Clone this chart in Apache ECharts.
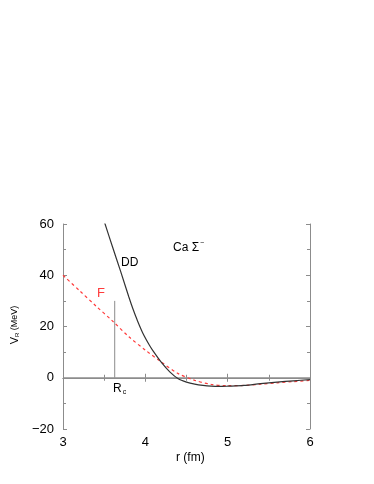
<!DOCTYPE html>
<html>
<head>
<meta charset="utf-8">
<script src="https://cdn.jsdelivr.net/npm/echarts@6/dist/echarts.min.js"></script>
<style>
  html, body { margin: 0; padding: 0; background: #fff; }
  #chart { width: 374px; height: 484px; }
</style>
</head>
<body>
<div id="chart"></div>
<script>
// r (fm), V (MeV)
var ddR   = [3.507, 3.60, 3.70, 3.80, 3.85, 3.90, 3.97, 4.05, 4.10, 4.20, 4.30, 4.40, 4.50, 4.60, 4.70, 4.80, 4.90, 5.00, 5.20, 5.40, 5.60, 5.80, 6.00];
var ddV   = [60.4, 51.2, 41.5, 31.5, 26.8, 22.6, 17.4, 12.7, 10.2, 5.8, 2.2, -0.4, -1.7, -2.5, -3.0, -3.3, -3.4, -3.3, -3.0, -2.3, -1.7, -1.2, -0.7];
var fR    = [3.0, 3.2, 3.4, 3.6, 3.8, 4.0, 4.2, 4.4, 4.6, 4.8, 5.0, 5.2, 5.4, 5.6, 5.8, 6.0];
var fV    = [40, 34, 28, 22.2, 16.0, 10.8, 6.0, 1.6, -1.0, -2.6, -3.1, -3.0, -2.5, -2.0, -1.5, -1.05];
var zeroLine = [[3, 0], [6, 0]];
var rcLine   = [[3.628, 0], [3.628, 30]];

function pairs(xs, ys) {
  return xs.map(function (x, i) { return [x, ys[i]]; });
}

var chart = echarts.init(document.getElementById('chart'), null, { renderer: 'canvas' });

var frame = { show: true, lineStyle: { color: '#8c8c8c', width: 1 } };
var tick = { show: true, inside: true, length: 4, lineStyle: { color: '#8c8c8c' } };
var minor = { show: true, splitNumber: 2, length: 3, lineStyle: { color: '#8c8c8c' } };
var font = 'Liberation Sans, Arial, sans-serif';

var option = {
  animation: false,
  backgroundColor: '#fff',
  grid: { left: 63, right: 64, top: 224, bottom: 55, containLabel: false },
  xAxis: [
    {
      type: 'value', min: 3, max: 6, interval: 1,
      axisLine: frame, axisTick: tick, minorTick: minor,
      splitLine: { show: false },
      axisLabel: { margin: 7, color: '#000', fontSize: 13, fontFamily: font }
    },
    {
      type: 'value', position: 'top', min: 3, max: 6, interval: 1,
      axisLine: frame, axisTick: tick, minorTick: minor,
      splitLine: { show: false }, axisLabel: { show: false }
    }
  ],
  yAxis: [
    {
      type: 'value', min: -20, max: 60, interval: 20,
      axisLine: frame, axisTick: tick, minorTick: minor,
      splitLine: { show: false },
      axisLabel: {
        margin: 9, color: '#000', fontSize: 13, fontFamily: font,
        formatter: function (v) { return String(v).replace('-', '\u2212'); }
      }
    },
    {
      type: 'value', position: 'right', min: -20, max: 60, interval: 20,
      axisLine: frame, axisTick: tick, minorTick: minor,
      splitLine: { show: false }, axisLabel: { show: false }
    }
  ],
  series: [
    {
      type: 'line', data: zeroLine, symbol: 'none', silent: true,
      lineStyle: { color: '#8c8c8c', width: 1 }
    },
    {
      type: 'line', data: rcLine, symbol: 'none', silent: true,
      lineStyle: { color: '#8c8c8c', width: 1 }
    },
    {
      name: 'F', type: 'line', data: pairs(fR, fV), symbol: 'none', smooth: 0.3,
      lineStyle: { color: '#ff3b3b', width: 1.2, type: [3, 3] }
    },
    {
      name: 'DD', type: 'line', data: pairs(ddR, ddV), symbol: 'none', smooth: 0.3, clip: true,
      lineStyle: { color: '#333', width: 1.2 }
    }
  ],
  graphic: [
    {
      type: 'text', left: 173, top: 240,
      style: {
        text: '{a|Ca \u03A3}{s|\u2212}',
        rich: {
          a: { fontSize: 12, fontFamily: font, fill: '#000' },
          s: { fontSize: 7, fontFamily: font, fill: '#000', verticalAlign: 'top', padding: [0, 0, 8, 1] }
        }
      }
    },
    {
      type: 'text', left: 121, top: 257,
      style: { text: 'DD', fontSize: 12, fontFamily: font, fill: '#000' }
    },
    {
      type: 'text', left: 97, top: 287,
      style: { text: 'F', fontSize: 13, fontFamily: font, fill: '#ff3b3b' }
    },
    {
      type: 'text', left: 113, top: 383,
      style: {
        text: '{a|R}{s|c}',
        rich: {
          a: { fontSize: 12, fontFamily: font, fill: '#000' },
          s: { fontSize: 7, fontFamily: font, fill: '#000', padding: [6, 0, 0, 1] }
        }
      }
    },
    {
      type: 'text', left: 176, top: 452,
      style: { text: 'r (fm)', fontSize: 12, fontFamily: font, fill: '#000' }
    },
    {
      type: 'text', x: 15, y: 325, rotation: Math.PI / 2,
      style: {
        text: '{a|V}{s|R}{b| (MeV)}',
        align: 'center', verticalAlign: 'middle',
        rich: {
          a: { fontSize: 11, fontFamily: font, fill: '#000' },
          s: { fontSize: 6, fontFamily: font, fill: '#000', padding: [5, 0, 0, 0] },
          b: { fontSize: 9, fontFamily: font, fill: '#000' }
        }
      }
    }
  ]
};

chart.setOption(option);
</script>
</body>
</html>
